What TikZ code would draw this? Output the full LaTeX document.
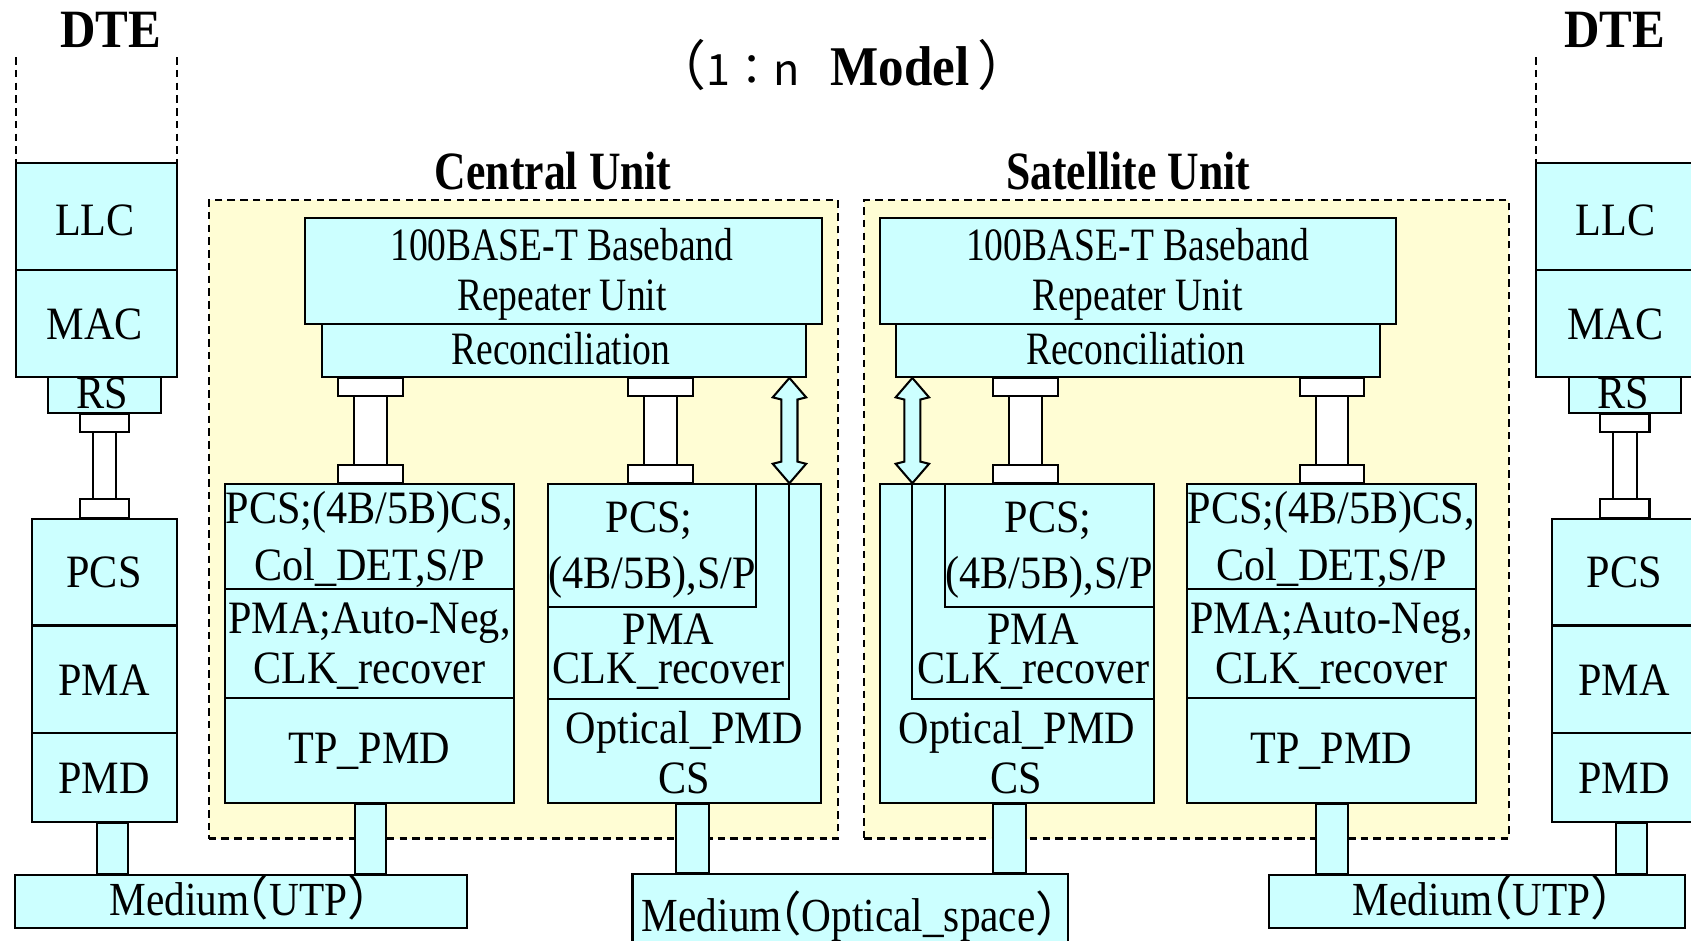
\documentclass[tikz,border=0pt]{standalone}
\usepackage{fontspec}
\setmainfont{Liberation Serif}[FakeStretch=0.91]
\newfontfamily\slimserif{Liberation Serif}[FakeStretch=0.81]
\newfontfamily\midserif{Liberation Serif}[FakeStretch=0.87]
\newfontfamily\cjk{Noto Sans CJK JP}
\usetikzlibrary{calc,fit}

\definecolor{cellfill}{RGB}{204,255,255}
\definecolor{unitfill}{RGB}{255,253,212}

\newcommand\boxfont{\fontsize{21.5}{24}\selectfont}
\newcommand\slimfont{\slimserif\fontsize{21.5}{24}\selectfont}
\newcommand\medfont{\midserif\fontsize{22}{26}\selectfont}
\newcommand\headfont{\fontsize{25}{28}\selectfont\bfseries}
\newcommand\unitfont{\slimserif\fontsize{25}{28}\selectfont\bfseries}
% full-width brackets trimmed to half their cell
\newcommand\lpar{{\cjk\makebox[0.42em][r]{（}}}
\newcommand\rpar{{\cjk\makebox[0.42em][l]{）}}}

\tikzset{
  stackcell/.style={draw, fill=cellfill, line width=0.95pt, inner sep=0pt, rectangle},
  linkbar/.style={draw, fill=white, line width=0.95pt},
  unitarea/.style={draw, fill=unitfill, line width=0.95pt, dash pattern=on 3.5pt off 2.4pt, inner sep=0pt, rectangle},
  dteguide/.style={draw, line width=0.95pt, dash pattern=on 3.5pt off 2.4pt},
  edge/.style={draw, line width=0.95pt},
  lbl/.style={anchor=base, inner sep=0pt, font=\boxfont},
  slimlbl/.style={anchor=base, inner sep=0pt, font=\slimfont},
  medlbl/.style={anchor=base, inner sep=0pt, font=\medfont},
  headlbl/.style={anchor=base, inner sep=0pt, font=\headfont},
  unitlbl/.style={anchor=base, inner sep=0pt, font=\unitfont},
}

% white link with end caps between two stacked boxes
% #1 x of axis, #2 upper node, #3 lower node, #4 cap half width, #5 bar half width
\newcommand\busbar[5]{%
  \coordinate (busx) at (#1,0);
  \draw[linkbar] ($(busx |- #2.south)+(-#4,0)$) rectangle ($(busx |- #2.south)+(#4,17)$);
  \draw[linkbar] ($(busx |- #3.north)+(-#4,-17)$) rectangle ($(busx |- #3.north)+(#4,0)$);
  \draw[linkbar] ($(busx |- #2.south)+(-#5,17)$) rectangle ($(busx |- #3.north)+(#5,-17)$);}
% cyan feed from a PMD box down to the medium
\newcommand\feeder[4]{%
  \coordinate (feedx) at (#1,0);
  \draw[stackcell] ($(feedx |- #2.south)+(-#4,0)$) rectangle ($(feedx |- #3.north)+(#4,0)$);}
% hollow double arrow between two tips
\newcommand\duplex[2]{%
  \draw[stackcell, line join=miter] (#1) -- ($(#1)+(-15.5,18)$) -- ($(#1)+(-7.5,20)$)
    -- ($(#2)+(-7.5,-20)$) -- ($(#2)+(-15.5,-18)$) -- (#2) -- ($(#2)+(15.5,-18)$)
    -- ($(#2)+(7.5,-20)$) -- ($(#1)+(7.5,20)$) -- ($(#1)+(15.5,18)$) -- cycle;}

\begin{document}
\begin{tikzpicture}[x=0.5pt, y=-0.5pt]
\clip (0,0) rectangle (1568,872.5);
\fill[white] (0,0) rectangle (1568,872.5);

% ---- unit areas ----
\node[unitarea, fit={(193.5,185.5) (777,777.5)}] (cuArea) {};
\node[unitarea, fit={(801.5,185.5) (1399,777.5)}] (suArea) {};

% ---- headings ----
\node[anchor=base west, inner sep=0pt] (title) at (605,79)
  {{\cjk\fontsize{25}{28}\selectfont （}{\cjk\fontsize{20}{22}\selectfont 1：n}\hspace{14pt}{\bfseries\fontsize{26}{30}\selectfont Model}\hspace{4pt}{\cjk\fontsize{25}{28}\selectfont ）}};
\node[headlbl] (dteLtxt) at (102.5,44.5) {DTE};
\node[headlbl] (dteRtxt) at (1497,44.5) {DTE};
\node[unitlbl] (cuTxt) at (513,176) {Central Unit};
\node[unitlbl] (suTxt) at (1046,176) {Satellite Unit};

% ---- left DTE ----
\draw[dteguide] (15,53) -- (15,151);
\draw[dteguide] (164,53) -- (164,151);
\node[stackcell, fit={(15,151) (164,250.5)}] (llcL) {};
\node[stackcell, fit={(15,250.5) (164,349.5)}] (macL) {};
\node[stackcell, fit={(44.5,349.5) (149,383)}] (rsL) {};
\node[stackcell, fit={(29.5,481) (164,580)}] (pcsL) {};
\node[stackcell, fit={(29.5,580) (164,679.5)}] (pmaL) {};
\node[stackcell, fit={(29.5,679.5) (164,762)}] (pmdL) {};
\node[stackcell, fit={(14,811) (433,860.5)}] (medL) {};

% ---- right DTE ----
\draw[dteguide] (1424.5,53) -- (1424.5,151);
\node[stackcell, fit={(1424.5,151) (1574,250.5)}] (llcR) {};
\node[stackcell, fit={(1424.5,250.5) (1574,349.5)}] (macR) {};
\node[stackcell, fit={(1454.5,349.5) (1559,383)}] (rsR) {};
\node[stackcell, fit={(1439.5,481) (1574,580)}] (pcsR) {};
\node[stackcell, fit={(1439.5,580) (1574,679.5)}] (pmaR) {};
\node[stackcell, fit={(1439.5,679.5) (1574,762)}] (pmdR) {};
\node[stackcell, fit={(1177,811) (1562,860.5)}] (medR) {};

% ---- central unit ----
\node[stackcell, fit={(283,202.5) (762,300)}] (rptC) {};
\node[stackcell, fit={(298.5,300) (747,349.5)}] (recC) {};
\node[stackcell, fit={(209,449) (477,546)}] (pcsC) {};
\node[stackcell, fit={(209,546) (477,647)}] (pmaC) {};
\node[stackcell, fit={(209,647) (477,744.5)}] (pmdC) {};
\node[stackcell, fit={(508,449) (761,744.5)}] (optC) {};
\node[stackcell, fit={(508,449) (701,563)}] (ipcC) {};

% ---- satellite unit ----
\node[stackcell, fit={(816,202.5) (1294.5,300)}] (rptS) {};
\node[stackcell, fit={(831,300) (1279.5,349.5)}] (recS) {};
\node[stackcell, fit={(816,449) (1070,744.5)}] (optS) {};
\node[stackcell, fit={(876,449) (1070,563)}] (ipcS) {};
\node[stackcell, fit={(1100.5,449) (1369,546)}] (pcsS) {};
\node[stackcell, fit={(1100.5,546) (1369,647)}] (pmaS) {};
\node[stackcell, fit={(1100.5,647) (1369,744.5)}] (pmdS) {};

% ---- optical medium ----
\node[stackcell, fit={(586.5,810.5) (990,900)}] (medC) {};

% ---- optical side paths with double arrows ----
\coordinate (axC) at (732,0);
\coordinate (upC) at (axC |- recC.south);
\coordinate (dnC) at (axC |- optC.north);
\coordinate (elbowC) at (axC |- pmaC.south);
\draw[edge] (dnC) -- (elbowC) -- (elbowC -| optC.west);
\duplex{upC}{dnC}

\coordinate (axS) at (846,0);
\coordinate (upS) at (axS |- recS.south);
\coordinate (dnS) at (axS |- optS.north);
\coordinate (elbowS) at (axS |- pmaS.south);
\draw[edge] (dnS) -- (elbowS) -- (elbowS -| optS.east);
\duplex{upS}{dnS}

% ---- links ----
\busbar{97}{rsL}{pcsL}{23}{11}
\busbar{1506.5}{rsR}{pcsR}{23}{11}
\busbar{343.5}{recC}{pcsC}{30}{15}
\busbar{612.5}{recC}{optC}{30}{15}
\busbar{951}{recS}{optS}{30}{15}
\busbar{1235}{recS}{pcsS}{30}{15}

\feeder{104.5}{pmdL}{medL}{14.5}
\feeder{1513}{pmdR}{medR}{14.5}
\feeder{343.5}{pmdC}{medL}{14.5}
\feeder{642}{optC}{medC}{15}
\feeder{936}{optS}{medC}{15}
\feeder{1235}{pmdS}{medR}{15}

% ---- labels: DTE stacks ----
\node[lbl] (tLLCl) at (88,218) {LLC};
\node[lbl] (tMACl) at (88,315) {MAC};
\node[lbl] (tRSl) at (95,379) {RS};
\node[lbl] (tPCSl) at (96.5,545) {PCS};
\node[lbl] (tPMAl) at (96.5,644.5) {PMA};
\node[lbl] (tPMDl) at (96.5,735.5) {PMD};
\node[lbl] (tLLCr) at (1498,218) {LLC};
\node[lbl] (tMACr) at (1498,315) {MAC};
\node[lbl] (tRSr) at (1505,379) {RS};
\node[lbl] (tPCSr) at (1506,545) {PCS};
\node[lbl] (tPMAr) at (1506,644.5) {PMA};
\node[lbl] (tPMDr) at (1506,735.5) {PMD};

% ---- labels: media ----
\node[medlbl] (tMedL) at (221,849) {Medium\lpar UTP\rpar};
\node[medlbl] (tMedC) at (787,864) {Medium\lpar Optical\_space\rpar};
\node[medlbl] (tMedR) at (1374,849) {Medium\lpar UTP\rpar};

% ---- labels: central unit ----
\node[slimlbl] (tRptC1) at (521,242) {100BASE-T Baseband};
\node[slimlbl] (tRptC2) at (521,288) {Repeater Unit};
\node[slimlbl] (tRecC) at (520,338) {Reconciliation};
\node[lbl] (tPcsC1) at (342.5,485) {PCS;(4B/5B)CS,};
\node[lbl] (tPcsC2) at (342.5,538) {Col\_DET,S/P};
\node[lbl] (tPmaC1) at (342.5,587) {PMA;Auto-Neg,};
\node[lbl] (tPmaC2) at (342.5,633.5) {CLK\_recover};
\node[lbl] (tPmdC) at (342.5,708) {TP\_PMD};
\node[lbl] (tOpcC1) at (602,494) {PCS;};
\node[lbl] (tOpcC2) at (604.5,545.5) {(4B/5B),S/P};
\node[lbl] (tOpmC1) at (620,598) {PMA};
\node[lbl] (tOpmC2) at (620,633.5) {CLK\_recover};
\node[lbl] (tOpdC1) at (634.5,689) {Optical\_PMD};
\node[lbl] (tOpdC2) at (634.5,735.5) {CS};

% ---- labels: satellite unit ----
\node[slimlbl] (tRptS1) at (1055,242) {100BASE-T Baseband};
\node[slimlbl] (tRptS2) at (1055,288) {Repeater Unit};
\node[slimlbl] (tRecS) at (1053,338) {Reconciliation};
\node[lbl] (tOpcS1) at (972,494) {PCS;};
\node[lbl] (tOpcS2) at (973,545.5) {(4B/5B),S/P};
\node[lbl] (tOpmS1) at (958,598) {PMA};
\node[lbl] (tOpmS2) at (958,633.5) {CLK\_recover};
\node[lbl] (tOpdS1) at (943,689) {Optical\_PMD};
\node[lbl] (tOpdS2) at (942,735.5) {CS};
\node[lbl] (tPcsS1) at (1234.5,485) {PCS;(4B/5B)CS,};
\node[lbl] (tPcsS2) at (1234.5,538) {Col\_DET,S/P};
\node[lbl] (tPmaS1) at (1234.5,587) {PMA;Auto-Neg,};
\node[lbl] (tPmaS2) at (1234.5,633.5) {CLK\_recover};
\node[lbl] (tPmdS) at (1234.5,708) {TP\_PMD};
\end{tikzpicture}
\end{document}
